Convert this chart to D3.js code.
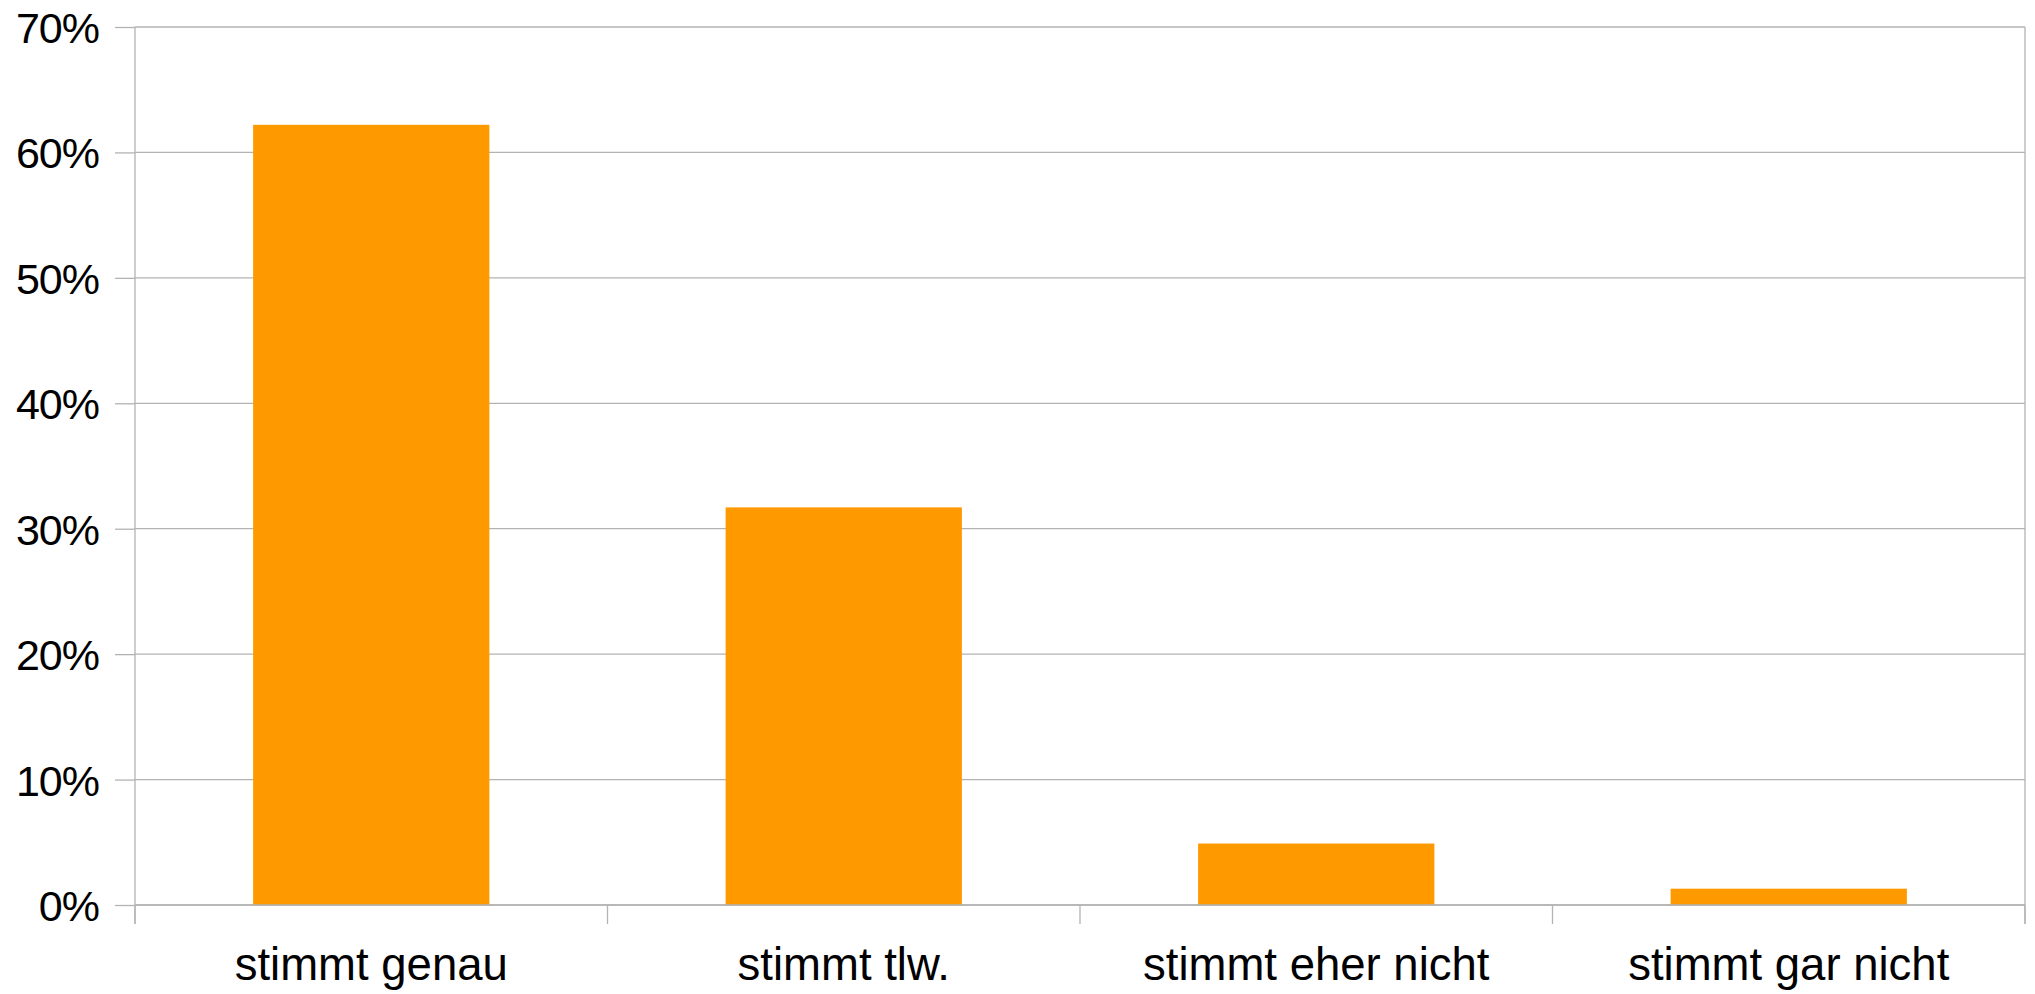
<!DOCTYPE html>
<html>
<head>
<meta charset="utf-8">
<script src="https://cdn.jsdelivr.net/npm/d3@7"></script>
<style>
  html, body { margin: 0; padding: 0; background: #fff; }
  svg { display: block; }
  text { font-family: "Liberation Sans", Arial, sans-serif; fill: #000; }
</style>
</head>
<body>
<svg id="chart" width="2035" height="994"></svg>
<script>
const categories = ["stimmt genau", "stimmt tlw.", "stimmt eher nicht", "stimmt gar nicht"];
const values = [0.622, 0.317, 0.049, 0.013];
const yTicks = [0, 0.1, 0.2, 0.3, 0.4, 0.5, 0.6, 0.7];

const W = 2035, H = 994;
const margin = { left: 135, right: 10, top: 27, bottom: 89 };
const svg = d3.select("#chart");

const x = d3.scaleBand()
  .domain(categories)
  .range([margin.left, W - margin.right])
  .paddingInner(0.5)
  .paddingOuter(0.25);

const y = d3.scaleLinear()
  .domain([0, 0.7])
  .range([H - margin.bottom, margin.top]);

const gridColor = "#b3b3b3";
const x0 = margin.left, x1 = W - margin.right;
const yBase = y(0);

// gridlines
svg.append("g").selectAll("line").data(yTicks).join("line")
  .attr("x1", x0).attr("x2", x1)
  .attr("y1", d => y(d)).attr("y2", d => y(d))
  .attr("stroke", gridColor).attr("stroke-width", 1.3);

// bars
svg.append("g").selectAll("rect").data(values).join("rect")
  .attr("x", (d, i) => x(categories[i]))
  .attr("width", x.bandwidth())
  .attr("y", d => y(d))
  .attr("height", d => yBase - y(d))
  .attr("fill", "#ff9900");

// y axis
const yAxis = d3.axisLeft(y)
  .tickValues(yTicks)
  .tickFormat(d3.format(".0%"))
  .tickSize(20)
  .tickPadding(16);
const gy = svg.append("g").attr("transform", `translate(${x0},0)`).call(yAxis);
gy.select(".domain").remove();
gy.selectAll(".tick line").attr("stroke", gridColor).attr("stroke-width", 1.3);
gy.selectAll(".tick text")
  .attr("font-size", 43)
  .attr("font-family", "'Liberation Sans', Arial, sans-serif")
  .attr("fill", "#000")
  .attr("dy", "0.36em")
  .attr("letter-spacing", "-1");

// left axis line
svg.append("line")
  .attr("x1", x0).attr("x2", x0)
  .attr("y1", y(0.7)).attr("y2", yBase + 19)
  .attr("stroke", gridColor).attr("stroke-width", 1.3);

// right border
svg.append("line")
  .attr("x1", x1).attr("x2", x1)
  .attr("y1", y(0.7)).attr("y2", yBase + 19)
  .attr("stroke", gridColor).attr("stroke-width", 1.3);

// category boundary ticks
const step = x.step();
const bounds = categories.map(c => x(c) - step * 0.25).concat([x1]);
svg.append("g").selectAll("line").data(bounds).join("line")
  .attr("x1", d => d).attr("x2", d => d)
  .attr("y1", yBase).attr("y2", yBase + 19)
  .attr("stroke", gridColor).attr("stroke-width", 1.3);

// baseline
svg.append("line")
  .attr("x1", x0).attr("x2", x1)
  .attr("y1", yBase).attr("y2", yBase)
  .attr("stroke", gridColor).attr("stroke-width", 1.5);

// category labels
svg.append("g").selectAll("text").data(categories).join("text")
  .attr("x", d => x(d) + x.bandwidth() / 2)
  .attr("y", yBase + 75)
  .attr("text-anchor", "middle")
  .attr("font-size", 45.5)
  .text(d => d);
</script>
</body>
</html>
